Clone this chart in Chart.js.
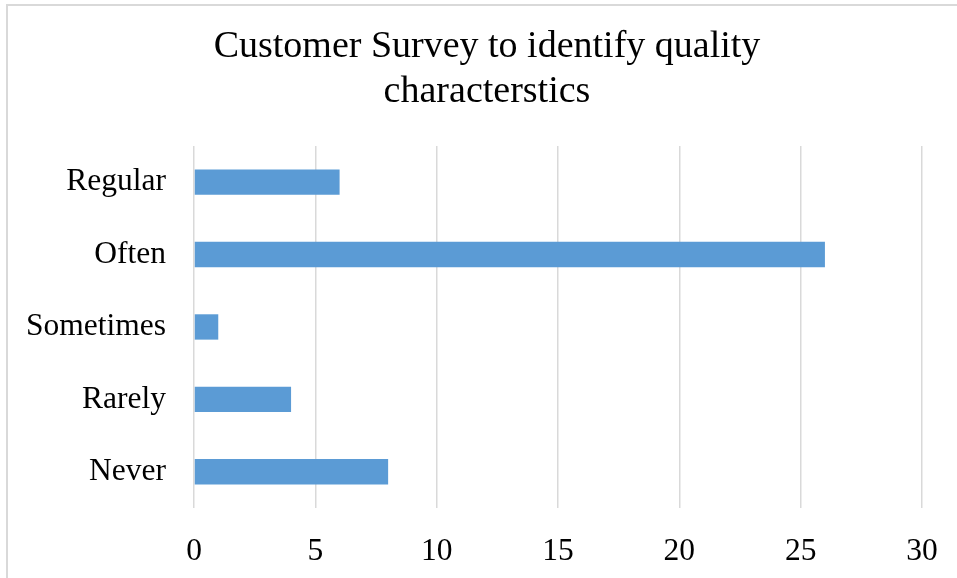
<!DOCTYPE html>
<html>
<head>
<meta charset="utf-8">
<script src="https://cdn.jsdelivr.net/npm/chart.js@4.4.1/dist/chart.umd.min.js"></script>
<style>
  html, body { margin: 0; padding: 0; background: #fff; overflow: hidden; }
  #frame {
    position: absolute; left: 6px; top: 4px; width: 1000px; height: 700px;
    border-left: 2px solid #d9d9d9; border-top: 2px solid #d9d9d9;
    box-sizing: border-box;
  }
  #wrap { position: absolute; left: 0; top: 0; width: 957px; height: 578px; }
</style>
</head>
<body>
<div id="frame"></div>
<div id="wrap"><canvas id="chart" width="957" height="578"></canvas></div>
<script>
// Survey responses per frequency category
const categories = ['Regular', 'Often', 'Sometimes', 'Rarely', 'Never'];
const responses = [6, 26, 1, 4, 8];
const titleLines = ['Customer Survey to identify quality', 'characterstics'];
const axisMin = 0;
const axisMax = 30;
const axisStep = 5;

const serif = '"Liberation Serif", "Times New Roman", serif';

new Chart(document.getElementById('chart'), {
  type: 'bar',
  data: {
    labels: categories,
    datasets: [{
      data: responses,
      backgroundColor: '#5B9BD5',
      borderWidth: 0,
      categoryPercentage: 1.0,
      barPercentage: 0.35
    }]
  },
  options: {
    indexAxis: 'y',
    responsive: false,
    animation: false,
    layout: { padding: { left: 24, right: 7, top: 0, bottom: 10 } },
    plugins: {
      legend: { display: false },
      tooltip: { enabled: false },
      title: {
        display: true,
        text: titleLines,
        color: '#000',
        font: { family: serif, size: 38, weight: 'normal', lineHeight: 1.17 },
        padding: { top: 25, bottom: 32 }
      }
    },
    scales: {
      x: {
        min: axisMin,
        max: axisMax,
        afterFit: (scale) => {
          scale.height = 60;
          scale.paddingLeft = 0;
          scale.paddingRight = 0;
        },
        ticks: {
          stepSize: axisStep,
          color: '#000',
          padding: 25,
          font: { family: serif, size: 31.5 }
        },
        grid: { color: '#d9d9d9', lineWidth: 1.5, drawTicks: false },
        border: { display: false }
      },
      y: {
        afterFit: (scale) => { scale.width = 170; },
        ticks: {
          color: '#000',
          padding: 28,
          font: { family: serif, size: 31.5 }
        },
        grid: { display: false, drawTicks: false },
        border: { display: false }
      },
      // blank right-hand margin beside the plot
      spacer: {
        type: 'linear',
        position: 'right',
        afterFit: (scale) => { scale.width = 28; },
        ticks: { display: false },
        grid: { display: false, drawTicks: false },
        border: { display: false }
      }
    }
  }
});
</script>
</body>
</html>
